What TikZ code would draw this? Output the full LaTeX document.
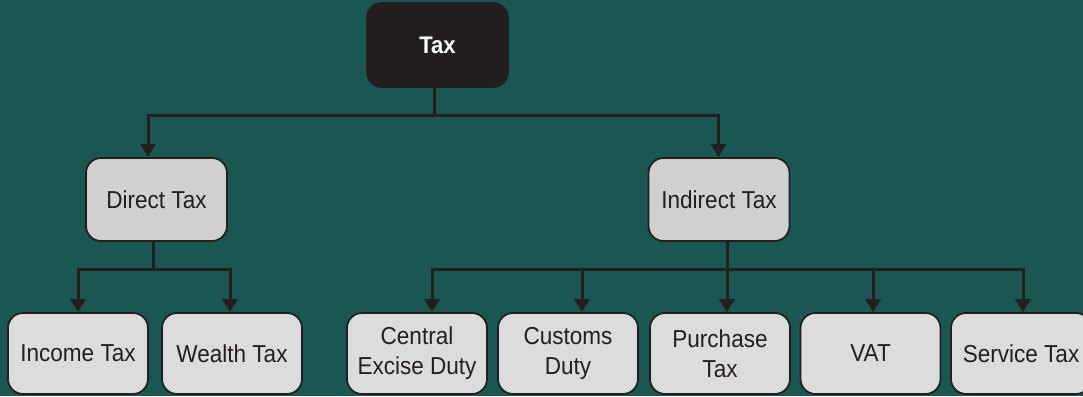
\documentclass[tikz,border=0pt]{standalone}
\usepackage{fontspec}
\setmainfont[FakeStretch=0.92]{Liberation Sans}
\usetikzlibrary{arrows.meta}
\definecolor{bgc}{HTML}{1A5750}
\definecolor{ink}{HTML}{231F20}
\definecolor{midbox}{HTML}{D0D0D0}
\definecolor{lowbox}{HTML}{DCDCDC}
\tikzset{
  box/.style={draw=ink, line width=1.8pt, rounded corners=15pt, align=center,
    text=ink, font=\fontsize{24.5}{30}\selectfont, inner sep=0pt},
  topbox/.style={box, fill=ink, text=white, font=\fontsize{24}{30}\selectfont\bfseries,
    minimum width=141pt, minimum height=84pt},
  midnode/.style={box, fill=midbox, minimum width=141pt, minimum height=83pt},
  lownode/.style={box, fill=lowbox, minimum width=140pt, minimum height=81pt},
  link/.style={draw=ink, line width=3pt},
  arr/.style={link, -{Triangle[length=13pt,width=15pt]}}
}
\begin{document}
\begin{tikzpicture}[x=1pt,y=-1pt]
\fill[bgc] (0,0) rectangle (1083,396);
\useasboundingbox (0,0) rectangle (1083,396);
\clip (0,0) rectangle (1083,396);
\node[topbox] (tax) at (437.5,45) {Tax};
\node[midnode] (direct) at (156.5,199.5) {Direct Tax};
\node[midnode] (indirect) at (719,199.5) {Indirect Tax};
\node[lownode] (income) at (78,353.5) {Income Tax};
\node[lownode] (wealth) at (232,353.5) {Wealth Tax};
\node[lownode] (central) at (417,353.5) {Central\\Excise Duty};
\node[lownode] (customs) at (568,353.5) {Customs\\Duty};
\node[lownode] (purchase) at (720,353.5) {Purchase\\Tax};
\node[lownode] (vat) at (870.5,353.5) {VAT};
\node[lownode] (service) at (1021,353.5) {Service Tax};
\coordinate (topbus) at (434,115);
\coordinate (dirbus) at (153,269);
\coordinate (indbus) at (727,269);
% top level
\draw[link] ([xshift=-3.5pt]tax.south) -- (topbus);
\draw[arr] (topbus) -| ([xshift=-8.5pt]direct.north);
\draw[arr] (topbus) -| ([xshift=-0.5pt]indirect.north);
% direct
\draw[link] ([xshift=-3.5pt]direct.south) -- (dirbus);
\draw[arr] (dirbus) -| (income.north);
\draw[arr] (dirbus) -| ([xshift=-2pt]wealth.north);
% indirect
\draw[link] ([xshift=8pt]indirect.south) -- (indbus);
\draw[arr] (indbus) -| ([xshift=15pt]central.north);
\draw[arr] (indbus) -| ([xshift=14pt]customs.north);
\draw[arr] (indbus) -| ([xshift=7pt]purchase.north);
\draw[arr] (indbus) -| ([xshift=2.5pt]vat.north);
\draw[arr] (indbus) -| ([xshift=2pt]service.north);
\end{tikzpicture}
\end{document}
